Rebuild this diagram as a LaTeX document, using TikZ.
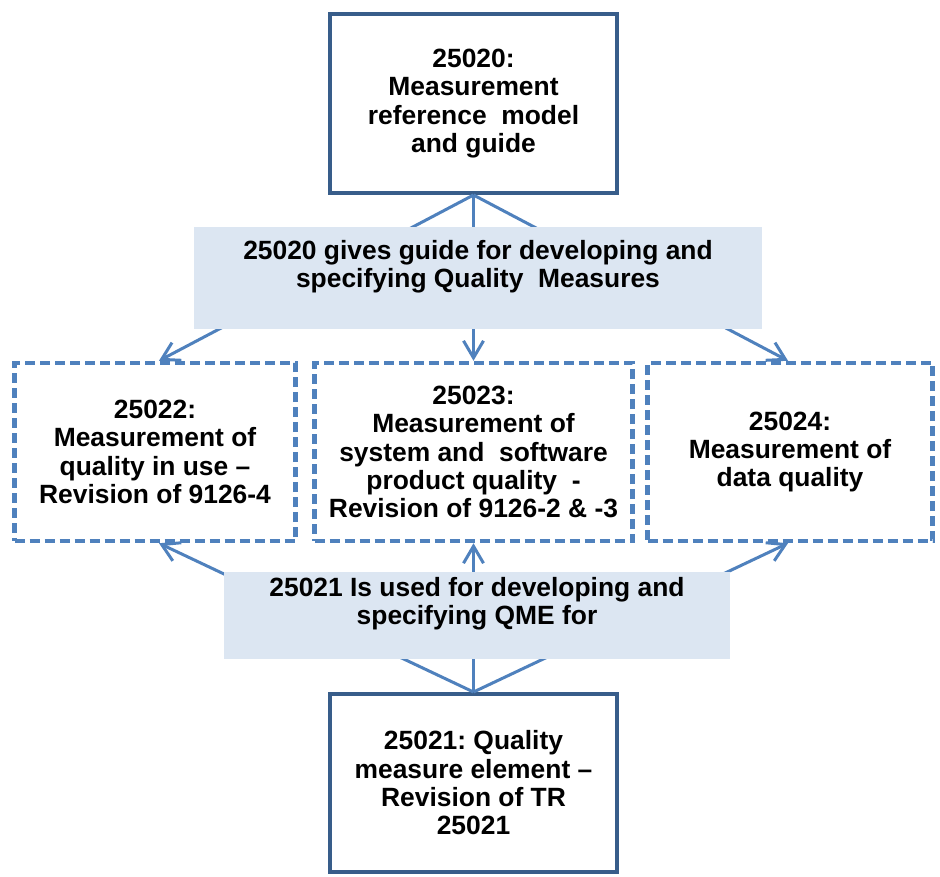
\documentclass[tikz,border=0pt]{standalone}
\usepackage{fontspec}
\setmainfont{Liberation Sans}
\usetikzlibrary{arrows.meta}
\definecolor{boxblue}{HTML}{385D8A}
\definecolor{linkblue}{HTML}{4F81BD}
\definecolor{labfill}{HTML}{DCE6F2}
\tikzset{
  txt/.style={font=\fontsize{26.4}{28.3}\selectfont\bfseries\frenchspacing, align=center, inner sep=0pt},
  solidbox/.style={txt, draw=boxblue, line width=4pt, minimum width=287pt, minimum height=179pt},
  dashbox/.style={txt, draw=linkblue, line width=4.5pt, dash pattern=on 10pt off 5pt, minimum height=178pt},
  labbox/.style={fill=labfill, inner sep=0pt},
  link/.style={draw=linkblue, line width=3pt, -{Straight Barb[length=17pt,width=20pt]}},
}
\begin{document}
\begin{tikzpicture}[x=1pt,y=-1pt]
\useasboundingbox (0,0) rectangle (940,876);
\fill[white] (0,0) rectangle (940,876);

\node[solidbox] (top) at (473.5,103.5) {25020:\\ Measurement\\ reference\ \ model\\ and guide};
\node[solidbox, minimum height=178pt] (bot) at (473.5,783) {25021: Quality\\ measure element –\\ Revision of TR\\ 25021};

\node[dashbox, minimum width=281pt] (left) at (155,452) {25022:\\ Measurement of\\ quality in use –\\ Revision of 9126-4};
\node[dashbox, minimum width=318pt] (mid) at (473.5,452) {25023:\\ Measurement of\\ system and\ \ software\\ product quality\ \ -\\ Revision of 9126-2 \& -3};
\node[dashbox, minimum width=285pt] (right) at (790,452) {25024:\\ Measurement of\\ data quality};

\draw[link] (top.south) -- ([xshift=4pt]left.north);
\draw[link] (top.south) -- (mid.north);
\draw[link] (top.south) -- ([xshift=-2pt]right.north);
\draw[link] (bot.north) -- ([xshift=4pt]left.south);
\draw[link] (bot.north) -- (mid.south);
\draw[link] (bot.north) -- ([xshift=-2pt]right.south);

\node[labbox, minimum width=568pt, minimum height=102pt] (lab1) at (478,278) {};
\node[labbox, minimum width=506pt, minimum height=87pt] (lab2) at (477,615.5) {};
\node[txt, anchor=north] (lab1txt) at ([yshift=-13pt]lab1.north) {25020 gives guide for developing and\\ specifying Quality\ \ Measures};
\node[txt, anchor=north] (lab2txt) at ([yshift=-5pt]lab2.north) {25021 Is used for developing and\\ specifying QME for};
\end{tikzpicture}
\end{document}
